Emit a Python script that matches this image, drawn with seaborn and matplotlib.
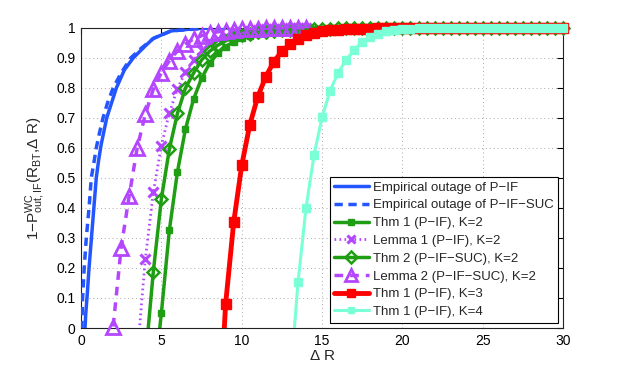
import numpy as np
import matplotlib
matplotlib.use('Agg')
import matplotlib.pyplot as plt
from matplotlib.lines import Line2D
import seaborn as sns

# valores
x_emp_if = [0.2, 0.3, 0.4, 0.5, 0.65, 0.8, 0.95, 1.1, 1.25, 1.6, 2.2, 2.7, 3.25, 4.0, 4.5, 5.6, 7.0, 8.0, 10.0, 30.0]
y_emp_if = [-0.05, 0.05, 0.12, 0.2, 0.3, 0.4, 0.5, 0.56, 0.61, 0.7, 0.8, 0.86, 0.9, 0.94, 0.965, 0.99, 0.997, 1.0, 1.0, 1.0]

x_emp_suc = [0.0, 0.05, 0.1, 0.2, 0.33, 0.5, 0.64, 0.8, 0.95, 1.15, 1.37, 1.65, 2.0, 2.5, 3.1, 3.7, 4.5, 5.6, 8.0, 30.0]
y_emp_suc = [-0.05, 0.0, 0.1, 0.2, 0.3, 0.4, 0.5, 0.55, 0.6, 0.65, 0.7, 0.75, 0.8, 0.85, 0.9, 0.93, 0.965, 0.99, 1.0, 1.0]

x_thm1_k2 = np.arange(4.5, 30.25, 0.5)
y_thm1_k2 = [-0.20, 0.049, 0.327, 0.52, 0.663, 0.762, 0.832, 0.882, 0.915, 0.938,
             0.954, 0.965, 0.973, 0.979, 0.984, 0.987, 0.99, 0.992, 0.994, 0.995,
             0.996, 0.997, 0.997, 0.998, 0.998, 0.998, 0.999, 0.999, 0.999, 0.999,
             0.999, 0.999, 1.0, 1.0, 1.0, 1.0, 1.0, 1.0, 1.0, 1.0,
             1.0, 1.0, 1.0, 1.0, 1.0, 1.0, 1.0, 1.0, 1.0, 1.0,
             1.0, 1.0]

x_lem1 = np.arange(3.5, 14.25, 0.5)
y_lem1 = [-0.09, 0.229, 0.452, 0.608, 0.717, 0.798, 0.853, 0.893, 0.925, 0.947,
          0.963, 0.974, 0.982, 0.987, 0.991, 0.994, 0.996, 0.997, 0.998, 0.999,
          0.999, 1.0]

x_thm2_k2 = np.arange(4.0, 30.25, 0.5)
y_thm2_k2 = [-0.11, 0.188, 0.43, 0.597, 0.715, 0.8, 0.849, 0.893, 0.922, 0.942,
             0.957, 0.967, 0.975, 0.981, 0.985, 0.988, 0.99, 0.992, 0.994, 0.995,
             0.996, 0.997, 0.998, 0.998, 0.999, 0.999, 0.999, 0.999, 1.0, 1.0,
             1.0, 1.0, 1.0, 1.0, 1.0, 1.0, 1.0, 1.0, 1.0, 1.0,
             1.0, 1.0, 1.0, 1.0, 1.0, 1.0, 1.0, 1.0, 1.0, 1.0,
             1.0, 1.0, 1.0]

x_lem2 = np.arange(2.0, 14.25, 0.5)
y_lem2 = [0.005, 0.268, 0.441, 0.601, 0.712, 0.796, 0.851, 0.891, 0.924, 0.947,
          0.963, 0.974, 0.982, 0.987, 0.991, 0.994, 0.996, 0.997, 0.998, 0.999,
          0.999, 1.0, 1.0, 1.0, 1.0]

x_thm1_k3 = np.arange(8.5, 30.25, 0.5)
y_thm1_k3 = [-0.4, 0.081, 0.352, 0.542, 0.677, 0.771, 0.838, 0.888, 0.922, 0.946,
             0.964, 0.976, 0.984, 0.989, 0.992, 0.994, 0.996, 0.997, 0.998, 0.998,
             0.999, 0.999, 1.0, 1.0, 1.0, 1.0, 1.0, 1.0, 1.0, 1.0,
             1.0, 1.0, 1.0, 1.0, 1.0, 1.0, 1.0, 1.0, 1.0, 1.0,
             1.0, 1.0, 1.0, 1.0]

x_thm1_k4 = np.arange(13.0, 30.25, 0.5)
y_thm1_k4 = [-0.19, 0.152, 0.4, 0.577, 0.703, 0.791, 0.851, 0.893, 0.928, 0.953,
             0.969, 0.981, 0.989, 0.994, 0.997, 0.998, 0.999, 1.0, 1.0, 1.0,
             1.0, 1.0, 1.0, 1.0, 1.0, 1.0, 1.0, 1.0, 1.0, 1.0,
             1.0, 1.0, 1.0, 1.0, 1.0]

azul = '#2456ff'
verde = '#1f9e14'
morado = '#b446ff'
rojo = '#ff0000'
cian = '#7affd6'

series = [
    # etiqueta, x, y, color, estilo, ancho, marcador, tam, relleno, mew
    ('Empirical outage of P\u2212IF', x_emp_if, y_emp_if, azul, '-', 2.5, None, 0, None, 0),
    ('Empirical outage of P\u2212IF\u2212SUC', x_emp_suc, y_emp_suc, azul, (0, (2.4, 1.6)), 2.5, None, 0, None, 0),
    ('Thm 1 (P\u2212IF), K=2', x_thm1_k2, y_thm1_k2, verde, '-', 2.5, 's', 5, verde, 1),
    ('Lemma 1 (P\u2212IF), K=2', x_lem1, y_lem1, morado, (0, (0.6, 1.2)), 2.0, 'x', 7, morado, 2.2),
    ('Thm 2 (P\u2212IF\u2212SUC), K=2', x_thm2_k2, y_thm2_k2, verde, '-', 2.5, 'D', 6.5, 'none', 1.8),
    ('Lemma 2 (P\u2212IF\u2212SUC), K=2', x_lem2, y_lem2, morado, (0, (2.5, 2.0)), 2.5, '^', 10, 'none', 2.0),
    ('Thm 1 (P\u2212IF), K=3', x_thm1_k3, y_thm1_k3, rojo, '-', 3.5, 's', 7, rojo, 1),
    ('Thm 1 (P\u2212IF), K=4', x_thm1_k4, y_thm1_k4, cian, '-', 2.2, 's', 5.5, cian, 1),
]

sns.set_style('white')
plt.rcParams['font.family'] = ['Liberation Sans', 'DejaVu Sans']
plt.rcParams['mathtext.fontset'] = 'custom'
plt.rcParams['mathtext.rm'] = 'Liberation Sans'
plt.rcParams['mathtext.it'] = 'Liberation Sans:italic'

fig = plt.figure(figsize=(6.23, 3.70), dpi=100)
ax = fig.add_axes([0.130, 0.1135, 0.774, 0.811])

handles = []
for i, (lab, xs, ys, col, ls, lw, mk, ms, mfc, mew) in enumerate(series):
    xs = np.asarray(xs, dtype=float)
    ys = np.asarray(ys, dtype=float)
    assert len(xs) == len(ys), lab
    sns.lineplot(x=xs, y=ys, ax=ax, color=col, linestyle=ls, linewidth=lw,
                 sort=False, errorbar=None, zorder=2 + i)
    if mk is not None:
        vis = ys >= 0
        sns.lineplot(x=xs[vis], y=ys[vis], ax=ax, color=col, linestyle='none',
                     marker=mk, markersize=ms, markerfacecolor=mfc,
                     markeredgecolor=col, markeredgewidth=mew, sort=False,
                     errorbar=None, clip_on=False, zorder=2 + i)
    handles.append(Line2D([], [], color=col, linestyle=ls, linewidth=lw,
                          marker=mk, markersize=ms * 0.9 if mk else 0,
                          markerfacecolor=mfc, markeredgecolor=col,
                          markeredgewidth=mew, label=lab))

ax.set_xlim(0, 30)
ax.set_ylim(0, 1)
ax.set_xticks(np.arange(0, 31, 5))
ax.set_yticks(np.arange(0, 1.01, 0.1))
ax.set_yticklabels(['0', '0.1', '0.2', '0.3', '0.4', '0.5', '0.6', '0.7', '0.8', '0.9', '1'])
ax.tick_params(direction='in', length=4, width=0.8, top=True, right=True,
               labelsize=10, colors='black', pad=4)
ax.grid(True, linestyle=(0, (1, 3)), color='#aaaaaa', linewidth=0.7)
ax.set_axisbelow(True)
for s in ax.spines.values():
    s.set_color('#222222')
    s.set_linewidth(0.8)

ax.set_xlabel(r'$\Delta$ R', fontsize=11, labelpad=1)
ax.set_ylabel(r'1$-$P$^{\rm WC}_{\rm out,IF}$(R$_{\rm BT}$,$\Delta$ R)', fontsize=11, labelpad=6)

leg = ax.legend(handles=handles, loc='lower right', fontsize=9.5, frameon=True,
                fancybox=False, framealpha=1, edgecolor='black', handlelength=2.6,
                handletextpad=0.3, borderpad=0.35, labelspacing=0.42,
                borderaxespad=0.4)
leg.get_frame().set_linewidth(0.8)
leg.set_zorder(20)

plt.savefig('out.png', dpi=100)
plt.close()
